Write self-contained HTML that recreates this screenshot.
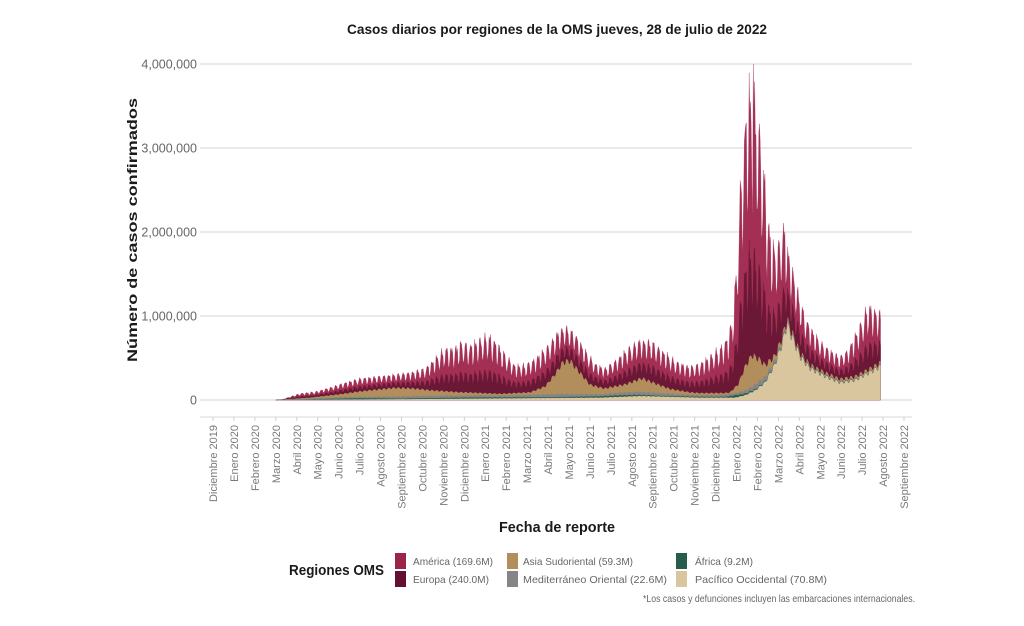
<!DOCTYPE html>
<html>
<head>
<meta charset="utf-8">
<style>
  html,body{margin:0;padding:0;background:#fff;}
  body{width:1024px;height:626px;overflow:hidden;}
  svg{display:block;}
  .xl{font-family:"Liberation Sans",sans-serif;font-size:11px;fill:#7a7a7a;}
  .yl{font-family:"Liberation Sans",sans-serif;font-size:12.5px;fill:#666;}
  .lg{font-family:"Liberation Sans",sans-serif;font-size:10.5px;fill:#666;}
  .b{font-family:"Liberation Sans",sans-serif;font-weight:bold;fill:#1a1a1a;}
</style>
</head>
<body>
<svg id="s" width="1024" height="626" viewBox="0 0 1024 626" xmlns="http://www.w3.org/2000/svg">
  <rect x="0" y="0" width="1024" height="626" fill="#fff"/>
  <text class="b" x="557" y="34" font-size="14" text-anchor="middle" textLength="420" lengthAdjust="spacingAndGlyphs">Casos diarios por regiones de la OMS jueves, 28 de julio de 2022</text>

  <g stroke="#e2e2e2" stroke-width="1.5">
    <line x1="200" y1="64" x2="912" y2="64"/>
    <line x1="200" y1="148" x2="912" y2="148"/>
    <line x1="200" y1="232" x2="912" y2="232"/>
    <line x1="200" y1="316" x2="912" y2="316"/>
    <line x1="200" y1="400" x2="912" y2="400"/>
  </g>
  <text class="yl" x="197" y="68.5" text-anchor="end">4,000,000</text>
  <text class="yl" x="197" y="152.5" text-anchor="end">3,000,000</text>
  <text class="yl" x="197" y="236.5" text-anchor="end">2,000,000</text>
  <text class="yl" x="197" y="320.5" text-anchor="end">1,000,000</text>
  <text class="yl" x="197" y="404.5" text-anchor="end">0</text>

  <text class="b" font-size="14" text-anchor="middle" textLength="264" lengthAdjust="spacingAndGlyphs" transform="translate(137,230) rotate(-90)">Número de casos confirmados</text>

  <g id="chart"></g>

  <line x1="200" y1="417" x2="912" y2="417" stroke="#e0e0e0" stroke-width="1.2"/>
  <g stroke="#cfcfcf" stroke-width="1">
    <line x1="213.0" y1="417" x2="213.0" y2="421"/><line x1="233.9" y1="417" x2="233.9" y2="421"/>
    <line x1="254.9" y1="417" x2="254.9" y2="421"/><line x1="275.8" y1="417" x2="275.8" y2="421"/>
    <line x1="296.8" y1="417" x2="296.8" y2="421"/><line x1="317.7" y1="417" x2="317.7" y2="421"/>
    <line x1="338.6" y1="417" x2="338.6" y2="421"/><line x1="359.6" y1="417" x2="359.6" y2="421"/>
    <line x1="380.5" y1="417" x2="380.5" y2="421"/><line x1="401.5" y1="417" x2="401.5" y2="421"/>
    <line x1="422.4" y1="417" x2="422.4" y2="421"/><line x1="443.3" y1="417" x2="443.3" y2="421"/>
    <line x1="464.3" y1="417" x2="464.3" y2="421"/><line x1="485.2" y1="417" x2="485.2" y2="421"/>
    <line x1="506.2" y1="417" x2="506.2" y2="421"/><line x1="527.1" y1="417" x2="527.1" y2="421"/>
    <line x1="548.0" y1="417" x2="548.0" y2="421"/><line x1="569.0" y1="417" x2="569.0" y2="421"/>
    <line x1="589.9" y1="417" x2="589.9" y2="421"/><line x1="610.9" y1="417" x2="610.9" y2="421"/>
    <line x1="631.8" y1="417" x2="631.8" y2="421"/><line x1="652.7" y1="417" x2="652.7" y2="421"/>
    <line x1="673.7" y1="417" x2="673.7" y2="421"/><line x1="694.6" y1="417" x2="694.6" y2="421"/>
    <line x1="715.6" y1="417" x2="715.6" y2="421"/><line x1="736.5" y1="417" x2="736.5" y2="421"/>
    <line x1="757.4" y1="417" x2="757.4" y2="421"/><line x1="778.4" y1="417" x2="778.4" y2="421"/>
    <line x1="799.3" y1="417" x2="799.3" y2="421"/><line x1="820.3" y1="417" x2="820.3" y2="421"/>
    <line x1="841.2" y1="417" x2="841.2" y2="421"/><line x1="862.1" y1="417" x2="862.1" y2="421"/>
    <line x1="883.1" y1="417" x2="883.1" y2="421"/><line x1="904.0" y1="417" x2="904.0" y2="421"/>
  </g>
  <g text-anchor="end">
    <text class="xl" transform="translate(217.0,425) rotate(-90)">Diciembre 2019</text>
    <text class="xl" transform="translate(237.9,425) rotate(-90)">Enero 2020</text>
    <text class="xl" transform="translate(258.9,425) rotate(-90)">Febrero 2020</text>
    <text class="xl" transform="translate(279.8,425) rotate(-90)">Marzo 2020</text>
    <text class="xl" transform="translate(300.8,425) rotate(-90)">Abril 2020</text>
    <text class="xl" transform="translate(321.7,425) rotate(-90)">Mayo 2020</text>
    <text class="xl" transform="translate(342.6,425) rotate(-90)">Junio 2020</text>
    <text class="xl" transform="translate(363.6,425) rotate(-90)">Julio 2020</text>
    <text class="xl" transform="translate(384.5,425) rotate(-90)">Agosto 2020</text>
    <text class="xl" transform="translate(405.5,425) rotate(-90)">Septiembre 2020</text>
    <text class="xl" transform="translate(426.4,425) rotate(-90)">Octubre 2020</text>
    <text class="xl" transform="translate(447.3,425) rotate(-90)">Noviembre 2020</text>
    <text class="xl" transform="translate(468.3,425) rotate(-90)">Diciembre 2020</text>
    <text class="xl" transform="translate(489.2,425) rotate(-90)">Enero 2021</text>
    <text class="xl" transform="translate(510.2,425) rotate(-90)">Febrero 2021</text>
    <text class="xl" transform="translate(531.1,425) rotate(-90)">Marzo 2021</text>
    <text class="xl" transform="translate(552.0,425) rotate(-90)">Abril 2021</text>
    <text class="xl" transform="translate(573.0,425) rotate(-90)">Mayo 2021</text>
    <text class="xl" transform="translate(593.9,425) rotate(-90)">Junio 2021</text>
    <text class="xl" transform="translate(614.9,425) rotate(-90)">Julio 2021</text>
    <text class="xl" transform="translate(635.8,425) rotate(-90)">Agosto 2021</text>
    <text class="xl" transform="translate(656.7,425) rotate(-90)">Septiembre 2021</text>
    <text class="xl" transform="translate(677.7,425) rotate(-90)">Octubre 2021</text>
    <text class="xl" transform="translate(698.6,425) rotate(-90)">Noviembre 2021</text>
    <text class="xl" transform="translate(719.6,425) rotate(-90)">Diciembre 2021</text>
    <text class="xl" transform="translate(740.5,425) rotate(-90)">Enero 2022</text>
    <text class="xl" transform="translate(761.4,425) rotate(-90)">Febrero 2022</text>
    <text class="xl" transform="translate(782.4,425) rotate(-90)">Marzo 2022</text>
    <text class="xl" transform="translate(803.3,425) rotate(-90)">Abril 2022</text>
    <text class="xl" transform="translate(824.3,425) rotate(-90)">Mayo 2022</text>
    <text class="xl" transform="translate(845.2,425) rotate(-90)">Junio 2022</text>
    <text class="xl" transform="translate(866.1,425) rotate(-90)">Julio 2022</text>
    <text class="xl" transform="translate(887.1,425) rotate(-90)">Agosto 2022</text>
    <text class="xl" transform="translate(908.0,425) rotate(-90)">Septiembre 2022</text>
  </g>

  <text class="b" x="557" y="532" font-size="15" text-anchor="middle" textLength="116" lengthAdjust="spacingAndGlyphs">Fecha de reporte</text>

  <text class="b" x="289" y="575" font-size="15" textLength="95" lengthAdjust="spacingAndGlyphs">Regiones OMS</text>
  <rect x="395" y="553" width="11" height="16" fill="#9D2449"/>
  <rect x="395" y="571" width="11" height="16" fill="#621132"/>
  <rect x="507" y="553" width="11" height="16" fill="#B38E5D"/>
  <rect x="507" y="571" width="11" height="16" fill="#858585"/>
  <rect x="676" y="553" width="11" height="16" fill="#285C4D"/>
  <rect x="676" y="571" width="11" height="16" fill="#D9C59E"/>
  <text class="lg" x="413" y="565" textLength="80" lengthAdjust="spacingAndGlyphs">América (169.6M)</text>
  <text class="lg" x="413" y="583" textLength="76" lengthAdjust="spacingAndGlyphs">Europa (240.0M)</text>
  <text class="lg" x="523" y="565" textLength="110" lengthAdjust="spacingAndGlyphs">Asia Sudoriental (59.3M)</text>
  <text class="lg" x="523" y="583" textLength="144" lengthAdjust="spacingAndGlyphs">Mediterráneo Oriental (22.6M)</text>
  <text class="lg" x="695" y="565" textLength="58" lengthAdjust="spacingAndGlyphs">África (9.2M)</text>
  <text class="lg" x="695" y="583" textLength="132" lengthAdjust="spacingAndGlyphs">Pacífico Occidental (70.8M)</text>
  <text class="lg" x="643" y="602" font-size="9" textLength="272" lengthAdjust="spacingAndGlyphs">*Los casos y defunciones incluyen las embarcaciones internacionales.</text>
</svg>
<script>
(function(){
  var X0=275.8, DX=0.688, N=880;
  function interp(kp,x){
    if(x<=kp[0][0]) return kp[0][1];
    for(var i=1;i<kp.length;i++){
      if(x<=kp[i][0]){var a=kp[i-1],b=kp[i];return a[1]+(b[1]-a[1])*(x-a[0])/(b[0]-a[0]);}
    }
    return kp[kp.length-1][1];
  }
  var TOP=[[275,0],[282,0.005],[290,0.04],[300,0.08],[315,0.1],[330,0.15],[345,0.21],[360,0.26],[375,0.28],[390,0.3],[410,0.33],[425,0.38],[435,0.5],[445,0.62],[455,0.63],[462,0.7],[470,0.66],[478,0.72],[488,0.78],[495,0.72],[505,0.55],[515,0.42],[525,0.42],[535,0.5],[548,0.65],[558,0.82],[565,0.88],[575,0.8],[585,0.6],[595,0.44],[605,0.38],[615,0.47],[628,0.62],[640,0.72],[652,0.7],[662,0.6],[675,0.47],[690,0.4],[700,0.44],[712,0.55],[722,0.65],[728,0.78],[732,0.95],[736,1.5],[740,2.5],[744,3.2],[748,3.75],[752,3.7],[756,3.55],[760,3.2],[764,2.8],[768,2.2],[773,1.85],[778,1.85],[783,2.1],[788,1.8],[793,1.55],[798,1.3],[805,1.0],[812,0.85],[820,0.7],[830,0.6],[840,0.52],[848,0.6],[855,0.78],[862,0.95],[868,1.15],[873,1.1],[880,1.05]];
  var PB=[[275,0],[300,0.003],[400,0.01],[500,0.02],[600,0.03],[640,0.05],[700,0.03],[735,0.03],[745,0.06],[755,0.12],[765,0.22],[775,0.45],[782,0.7],[787,0.95],[792,0.8],[800,0.55],[810,0.4],[825,0.3],[840,0.22],[855,0.25],[870,0.35],[880,0.42]];
  var AF=[[275,0],[330,0.01],[360,0.015],[400,0.008],[470,0.015],[550,0.01],[620,0.02],[660,0.01],[725,0.01],[735,0.03],[745,0.02],[760,0.01],[880,0.005]];
  var MED=[[275,0],[310,0.01],[360,0.02],[420,0.03],[500,0.025],[560,0.04],[600,0.025],[640,0.04],[700,0.02],[740,0.03],[760,0.07],[775,0.04],[800,0.015],[880,0.01]];
  var AS=[[275,0],[310,0.01],[340,0.04],[370,0.08],[395,0.11],[410,0.1],[430,0.07],[460,0.04],[500,0.02],[530,0.03],[545,0.1],[555,0.25],[563,0.4],[570,0.42],[578,0.3],[590,0.12],[605,0.07],[625,0.1],[642,0.17],[655,0.12],[670,0.06],[690,0.03],[730,0.02],[738,0.1],[745,0.3],[752,0.4],[758,0.3],[765,0.15],[775,0.06],[790,0.02],[880,0.03]];
  var modA=[0.62,0.75,0.95,1.0,0.97,0.9,0.68];
  var modE=[0.55,0.7,1.0,0.96,0.9,0.84,0.5];
  var modB=[0.86,0.9,1,1,0.98,0.95,0.88];
  var L=[[],[],[],[],[],[]];
  for(var d=0;d<N;d++){
    var x=X0+d*DX, w=d%7;
    var nz=1+0.1*Math.sin(d*2.3)*Math.sin(d*0.71);
    var pb=interp(PB,x), af=interp(AF,x), me=interp(MED,x), as=interp(AS,x);
    var base=pb+af+me+as;
    var ea=Math.max(interp(TOP,x)-base,0);
    var mb=modB[w];
    var eu=ea*0.4*modE[w]*nz, am=ea*0.6*modA[w]*nz;
    if(d===694){ am=4.0-(pb+af+me+as)*mb-eu; }
    if(d===740){ am+=0.15; }
    L[0].push(pb*mb); L[1].push(af*mb); L[2].push(me*mb); L[3].push(as*mb); L[4].push(eu); L[5].push(am);
  }
  var cols=["#D9C59E","#285C4D","#858585","#B38E5D","#6A1836","#A32F55"];
  var cum=[];
  for(var k=0;k<6;k++){
    cum.push([]);
    for(var d2=0;d2<N;d2++){cum[k].push((k?cum[k-1][d2]:0)+L[k][d2]);}
  }
  var g=document.getElementById("chart"), ns="http://www.w3.org/2000/svg";
  for(var k2=5;k2>=0;k2--){
    var p="M"+X0.toFixed(2)+",400";
    for(var d3=0;d3<N;d3++){
      p+="L"+(X0+d3*DX).toFixed(2)+","+(400-cum[k2][d3]*84).toFixed(2);
    }
    p+="L"+(X0+(N-1)*DX).toFixed(2)+",400Z";
    var el=document.createElementNS(ns,"path");
    el.setAttribute("d",p);
    el.setAttribute("fill",cols[k2]);
    if(k2>=4){el.setAttribute("stroke",cols[k2]);el.setAttribute("stroke-width","0.3");}
    g.appendChild(el);
  }
})();
</script>
</body>
</html>
